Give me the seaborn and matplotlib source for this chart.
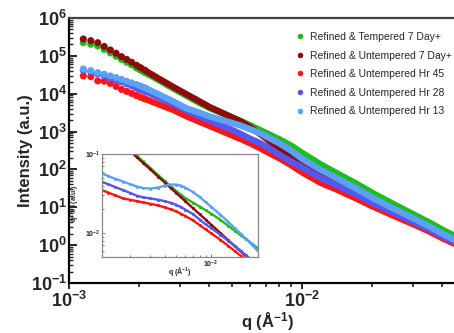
import numpy as np
import pandas as pd
import matplotlib
matplotlib.use("Agg")
import matplotlib.pyplot as plt
import seaborn as sns
from matplotlib.ticker import FuncFormatter, LogLocator, NullFormatter
from matplotlib.lines import Line2D

# ---------------- data ----------------
samples = ["Refined & Tempered 7 Day+", "Refined & Untempered 7 Day+",
           "Refined & Untempered Hr 45", "Refined & Untempered Hr 28",
           "Refined & Untempered Hr 13"]
colors = ["#1fbb1f", "#8c0b0b", "#fa1616", "#5757ee", "#5ba2f5"]

# main plot: q (1/A) and log10 intensity (a.u.)
q_main = [1.152e-3, 1.240e-3, 1.328e-3, 1.416e-3, 1.504e-3, 1.592e-3, 1.680e-3,
          1.768e-3, 1.856e-3, 1.944e-3, 2.032e-3, 2.120e-3, 2.4e-3, 2.8e-3,
          3.2e-3, 3.6e-3, 4.0e-3, 4.5e-3, 5.0e-3, 5.5e-3, 6.0e-3, 6.5e-3,
          7.0e-3, 8.0e-3, 9.0e-3, 1.0e-2, 1.2e-2, 1.4e-2, 1.7e-2, 2.0e-2,
          2.5e-2, 3.0e-2, 3.5e-2, 4.0e-2, 4.5e-2]
logI_tempered_7d = [5.348, 5.306, 5.261, 5.169, 5.077, 4.990, 4.905, 4.831, 4.760,
                    4.686, 4.620, 4.557, 4.377, 4.140, 3.942, 3.771, 3.625, 3.494,
                    3.375, 3.269, 3.164, 3.058, 2.966, 2.794, 2.623, 2.438, 2.135,
                    1.910, 1.633, 1.383, 1.066, 0.815, 0.604, 0.406, 0.248]
logI_untempered_7d = [5.446, 5.401, 5.348, 5.248, 5.156, 5.069, 4.979, 4.905, 4.831,
                      4.752, 4.681, 4.615, 4.417, 4.180, 3.982, 3.810, 3.652, 3.507,
                      3.375, 3.256, 3.111, 2.966, 2.821, 2.544, 2.319, 2.148, 1.884,
                      1.673, 1.409, 1.172, 0.881, 0.657, 0.459, 0.261, 0.116]
logI_hr45 = [4.470, 4.451, 4.338, 4.330, 4.272, 4.193, 4.114, 4.061, 4.008, 3.955,
             3.908, 3.863, 3.731, 3.573, 3.401, 3.269, 3.151, 3.019, 2.900, 2.794,
             2.689, 2.583, 2.478, 2.293, 2.108, 1.924, 1.647, 1.475, 1.238, 1.027,
             0.763, 0.552, 0.367, 0.182, 0.037]
logI_hr28 = [4.615, 4.575, 4.523, 4.470, 4.417, 4.364, 4.311, 4.259, 4.206, 4.153,
             4.108, 4.066, 3.916, 3.731, 3.559, 3.414, 3.296, 3.164, 3.045, 2.926,
             2.807, 2.715, 2.610, 2.385, 2.201, 2.056, 1.778, 1.594, 1.343, 1.119,
             0.842, 0.618, 0.420, 0.235, 0.090]
logI_hr13 = [4.654, 4.610, 4.557, 4.515, 4.470, 4.425, 4.377, 4.330, 4.285, 4.240,
             4.198, 4.153, 3.995, 3.797, 3.612, 3.507, 3.401, 3.309, 3.230, 3.151,
             3.058, 2.979, 2.873, 2.689, 2.491, 2.280, 1.990, 1.778, 1.501, 1.251,
             0.947, 0.710, 0.499, 0.301, 0.143]

# inset: q (1/A) and log10 of q^2 x I (a.u.)
q_inset = [1.15e-3, 1.3e-3, 1.5e-3, 1.75e-3, 2.0e-3, 2.3e-3, 2.6e-3, 3.0e-3, 3.5e-3,
           4.0e-3, 4.5e-3, 5.0e-3, 5.5e-3, 6.0e-3, 7.0e-3, 8.0e-3, 9.0e-3, 1.0e-2,
           1.2e-2, 1.4e-2, 1.6e-2, 1.8e-2, 2.0e-2, 2.25e-2, 2.5e-2]
logq2I_tempered_7d = [-0.623, -0.694, -0.776, -0.865, -0.942, -1.024, -1.094, -1.176,
                      -1.266, -1.342, -1.409, -1.466, -1.514, -1.557, -1.614, -1.665,
                      -1.709, -1.753, -1.829, -1.905, -1.968, -2.025, -2.076, -2.133,
                      -2.184]
logq2I_untempered_7d = [-0.642, -0.713, -0.795, -0.884, -0.961, -1.043, -1.113, -1.195,
                        -1.285, -1.361, -1.430, -1.491, -1.546, -1.596, -1.685, -1.762,
                        -1.829, -1.891, -1.996, -2.086, -2.163, -2.230, -2.291, -2.361,
                        -2.422]
logq2I_hr45 = [-1.457, -1.487, -1.523, -1.561, -1.578, -1.595, -1.611, -1.629, -1.649,
               -1.675, -1.699, -1.724, -1.754, -1.782, -1.839, -1.900, -1.953, -2.000,
               -2.082, -2.158, -2.225, -2.285, -2.335, -2.392, -2.443]
logq2I_hr28 = [-1.352, -1.382, -1.418, -1.456, -1.491, -1.527, -1.547, -1.561, -1.577,
               -1.597, -1.616, -1.641, -1.671, -1.702, -1.760, -1.829, -1.889, -1.934,
               -2.019, -2.095, -2.162, -2.221, -2.278, -2.342, -2.399]
logq2I_hr13 = [-1.244, -1.278, -1.314, -1.348, -1.380, -1.411, -1.430, -1.437, -1.424,
               -1.399, -1.386, -1.386, -1.399, -1.424, -1.481, -1.544, -1.608, -1.665,
               -1.766, -1.854, -1.937, -2.006, -2.070, -2.146, -2.215]

main_logs = [logI_tempered_7d, logI_untempered_7d, logI_hr45, logI_hr28, logI_hr13]
inset_logs = [logq2I_tempered_7d, logq2I_untempered_7d, logq2I_hr45, logq2I_hr28, logq2I_hr13]

n_dots = 12      # resolved markers at low q
line_start = 9   # dense region drawn as a thick band

df_main = pd.concat([pd.DataFrame({"q": q_main, "I": np.power(10.0, v), "sample": s,
                                   "idx": range(len(q_main))})
                     for s, v in zip(samples, main_logs)], ignore_index=True)
df_in = pd.concat([pd.DataFrame({"q": q_inset, "v": np.power(10.0, v), "sample": s})
                   for s, v in zip(samples, inset_logs)], ignore_index=True)
palette = dict(zip(samples, colors))

# ---------------- style ----------------
sns.set_style("white")
plt.rcParams["font.family"] = ["Liberation Sans", "DejaVu Sans"]
plt.rcParams["mathtext.fontset"] = "custom"
plt.rcParams["mathtext.rm"] = "Liberation Sans"
plt.rcParams["mathtext.bf"] = "Liberation Sans:bold"
plt.rcParams["mathtext.it"] = "Liberation Sans:italic"

W, H = 454, 333
fig = plt.figure(figsize=(W / 100, H / 100), dpi=100)
ax = fig.add_axes([69 / W, 1 - 283 / H, 396 / W, 265 / H])

sns.lineplot(data=df_main[df_main["idx"] >= line_start], x="q", y="I", hue="sample",
             palette=palette, hue_order=samples, lw=4.6, solid_capstyle="round",
             estimator=None, sort=False, legend=False, ax=ax)
sns.scatterplot(data=df_main[df_main["idx"] < n_dots], x="q", y="I", hue="sample",
                palette=palette, hue_order=samples, s=26, linewidth=0,
                legend=False, ax=ax)

ax.set_xscale("log")
ax.set_yscale("log")
ax.set_xlim(1e-3, 5e-2)
ax.set_ylim(1e-1, 1e6)

fmt = FuncFormatter(lambda v, p: r"$\mathbf{10^{%d}}$" % int(round(np.log10(v))))
ax.xaxis.set_major_formatter(fmt)
ax.yaxis.set_major_formatter(fmt)
ax.xaxis.set_minor_formatter(NullFormatter())
ax.yaxis.set_minor_formatter(NullFormatter())
ax.yaxis.set_major_locator(LogLocator(base=10, numticks=20))
ax.yaxis.set_minor_locator(LogLocator(base=10, subs=np.arange(2, 10), numticks=100))
ax.xaxis.set_minor_locator(LogLocator(base=10, subs=np.arange(2, 10), numticks=100))

ax.tick_params(axis="y", which="major", direction="in", length=6, width=1.4,
               labelsize=13, pad=1.5, left=True)
ax.tick_params(axis="y", which="minor", direction="in", length=3, width=1.0, left=True)
ax.tick_params(axis="x", which="major", direction="out", length=4, width=1.4,
               labelsize=13, pad=1.5, bottom=True)
ax.tick_params(axis="x", which="minor", direction="out", length=3, width=1.2, bottom=True)

for side in ["left", "bottom"]:
    ax.spines[side].set_linewidth(1.6)
    ax.spines[side].set_color("black")
ax.spines["top"].set_linewidth(1.6)
ax.spines["top"].set_color("#444444")
ax.spines["right"].set_linewidth(1.6)

ax.set_xlabel(r"q (Å$^{\mathbf{-1}}$)", fontsize=12, fontweight="bold")
ax.set_ylabel("Intensity (a.u.)", fontsize=12, fontweight="bold")
ax.xaxis.set_label_coords(0.5, -0.103)
ax.yaxis.set_label_coords(-0.092, 0.5)

handles = [Line2D([], [], ls="", marker="o", markersize=4.0, markeredgewidth=0,
                  color=c) for c in colors]
fig.legend(handles, samples, loc="upper left", bbox_to_anchor=(295.5 / W, 1 - 32 / H),
           frameon=False, fontsize=7.5, handlelength=0.8, handletextpad=0.6,
           labelspacing=0.82, borderpad=0, borderaxespad=0)

# ---------------- inset ----------------
axin = fig.add_axes([102 / W, 1 - 257 / H, 156 / W, 103 / H])
sns.lineplot(data=df_in, x="q", y="v", hue="sample", palette=palette, hue_order=samples,
             lw=1.7, marker="o", markersize=2.2, markeredgewidth=0, estimator=None,
             sort=False, legend=False, ax=axin)
axin.set_xscale("log")
axin.set_yscale("log")
axin.set_xlim(1.15e-3, 2.54e-2)
axin.set_ylim(5e-3, 1e-1)
fmt_small = FuncFormatter(lambda v, p: r"$\mathbf{10^{%d}}$" % int(round(np.log10(v))))
axin.xaxis.set_major_formatter(fmt_small)
axin.yaxis.set_major_formatter(fmt_small)
axin.xaxis.set_minor_formatter(NullFormatter())
axin.yaxis.set_minor_formatter(NullFormatter())
axin.xaxis.set_minor_locator(LogLocator(base=10, subs=np.arange(2, 10), numticks=100))
axin.yaxis.set_minor_locator(LogLocator(base=10, subs=np.arange(2, 10), numticks=100))
axin.tick_params(which="both", direction="in", labelsize=5, pad=1.5, color="#666666",
                 width=0.6, left=True, bottom=True)
axin.tick_params(which="major", length=2.5)
axin.tick_params(which="minor", length=1.5)
for s in axin.spines.values():
    s.set_color("#888888")
    s.set_linewidth(0.9)
axin.set_xlabel(r"q (Å$^{\mathbf{-1}}$)", fontsize=5, fontweight="bold")
axin.set_ylabel(r"q$^{\mathbf{2}}$ x I (a.u.)", fontsize=5, fontweight="bold")
axin.xaxis.set_label_coords(0.5, -0.075)
axin.yaxis.set_label_coords(-0.125, 0.52)

fig.savefig("out.png", dpi=100)
